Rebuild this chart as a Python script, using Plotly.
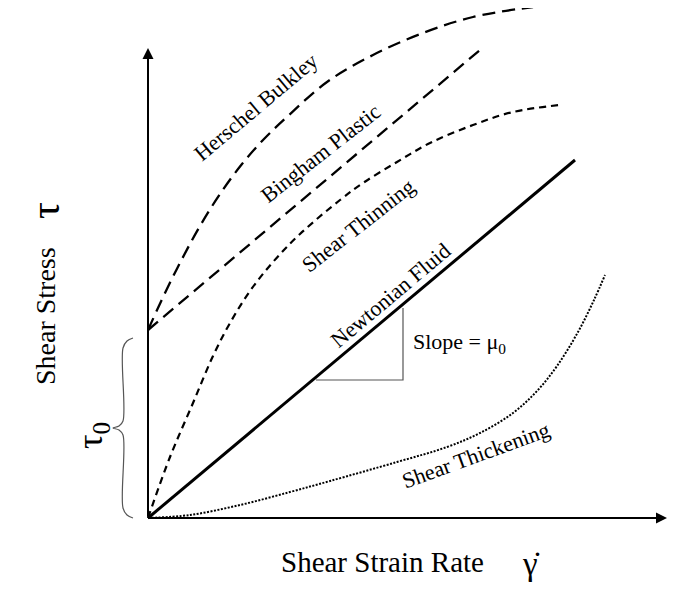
import plotly.graph_objects as go

# ---- data (schematic units: shear strain rate vs shear stress) ----
newton_x = [0.0, 4.27]
newton_y = [0.0, 3.58]

tau0 = 1.88  # yield stress

bingham_x = [0.0, 3.32]
bingham_y = [1.88, 4.68]

herschel_x = [0.0, 0.17, 0.34, 0.52, 0.72, 0.94, 1.16, 1.40, 1.79, 2.25, 2.75, 3.25, 3.85]
herschel_y = [1.88, 2.25, 2.59, 2.92, 3.24, 3.54, 3.79, 4.02, 4.36, 4.63, 4.85, 5.01, 5.11]

thinning_x = [0.0, 0.22, 0.45, 0.65, 0.82, 1.02, 1.25, 1.52, 1.92, 2.15, 2.49, 2.82, 3.25, 3.65, 4.12]
thinning_y = [0.0, 0.61, 1.15, 1.62, 1.95, 2.27, 2.56, 2.84, 3.18, 3.35, 3.56, 3.75, 3.93, 4.06, 4.13]

thickening_x = [0.0, 0.42, 0.92, 1.42, 1.82, 2.49, 2.99, 3.32, 3.65, 3.89, 4.09, 4.30, 4.46, 4.57]
thickening_y = [0.0, 0.03, 0.13, 0.26, 0.37, 0.56, 0.71, 0.85, 1.05, 1.27, 1.52, 1.86, 2.18, 2.43]

# slope triangle (run/rise under the Newtonian line)
triangle_x = [1.68, 2.55, 2.55]
triangle_y = [1.38, 1.38, 2.10]

# brace marking tau0 on the stress axis
brace_top = 1.80
brace_x = [-0.15, -0.21, -0.25, -0.25, -0.29, -0.35, -0.29, -0.25, -0.25, -0.21, -0.15]
brace_y = [brace_top, brace_top - 0.03, brace_top - 0.10, brace_top / 2 + 0.07,
           brace_top / 2 + 0.02, brace_top / 2, brace_top / 2 - 0.02,
           brace_top / 2 - 0.07, 0.10, 0.03, 0.0]

x_axis_end = 5.19
y_axis_end = 4.70

labels = ["Herschel Bulkley", "Bingham Plastic", "Shear Thinning", "Newtonian Fluid", "Shear Thickening"]
label_x = [1.07, 1.72, 2.10, 2.42, 3.27]
label_y = [4.11, 3.65, 2.93, 2.23, 0.63]
label_angle = [-40, -38, -38, -40, -20]

FONT = "Liberation Serif, Times New Roman, serif"

fig = go.Figure()

fig.add_trace(go.Scatter(x=herschel_x, y=herschel_y, mode="lines", line_shape="spline",
                         line=dict(color="black", width=2.3, dash="13px,7px")))
fig.add_trace(go.Scatter(x=bingham_x, y=bingham_y, mode="lines",
                         line=dict(color="black", width=2.3, dash="13px,7px")))
fig.add_trace(go.Scatter(x=thinning_x, y=thinning_y, mode="lines", line_shape="spline",
                         line=dict(color="black", width=2.2, dash="7px,5px")))
fig.add_trace(go.Scatter(x=newton_x, y=newton_y, mode="lines",
                         line=dict(color="black", width=3)))
fig.add_trace(go.Scatter(x=thickening_x, y=thickening_y, mode="lines", line_shape="spline",
                         line=dict(color="black", width=2, dash="2px,1.5px")))
fig.add_trace(go.Scatter(x=triangle_x, y=triangle_y, mode="lines",
                         line=dict(color="#555555", width=1.2)))
fig.add_trace(go.Scatter(x=brace_x, y=brace_y, mode="lines", line_shape="spline",
                         line=dict(color="#555555", width=1.2)))

# axes with arrows
fig.add_annotation(x=x_axis_end, y=0, ax=0, ay=0, xref="x", yref="y", axref="x", ayref="y",
                   showarrow=True, arrowhead=2, arrowsize=1.1, arrowwidth=2, arrowcolor="black", text="")
fig.add_annotation(x=0, y=y_axis_end, ax=0, ay=0, xref="x", yref="y", axref="x", ayref="y",
                   showarrow=True, arrowhead=2, arrowsize=1.1, arrowwidth=2, arrowcolor="black", text="")

for t, x, y, a in zip(labels, label_x, label_y, label_angle):
    fig.add_annotation(x=x, y=y, text=t, textangle=a, showarrow=False,
                       font=dict(family=FONT, size=22, color="black"))

fig.add_annotation(x=2.63, y=1.75, text="Slope = μ<sub>0</sub>", showarrow=False, xanchor="left",
                   font=dict(family=FONT, size=22, color="black"))
fig.add_annotation(x=-0.56, y=0.82, text="τ<sub>0</sub>", textangle=-90, showarrow=False,
                   font=dict(family=FONT, size=36, color="black"))

# axis titles
fig.add_annotation(x=2.34, y=-0.44, text="Shear Strain Rate", showarrow=False,
                   font=dict(family=FONT, size=29, color="black"))
fig.add_annotation(x=3.83, y=-0.46, text="γ̇", showarrow=False,
                   font=dict(family=FONT, size=33, color="black"))
fig.add_annotation(x=-1.03, y=2.02, text="Shear Stress", textangle=-90, showarrow=False,
                   font=dict(family=FONT, size=28, color="black"))
fig.add_annotation(x=-1.03, y=3.07, text="τ", textangle=-90, showarrow=False,
                   font=dict(family=FONT, size=42, color="black"))

fig.update_layout(
    width=672, height=585,
    margin=dict(l=0, r=0, t=0, b=0),
    paper_bgcolor="white", plot_bgcolor="white",
    showlegend=False,
    xaxis=dict(range=[-1.40, 5.32], visible=False, fixedrange=True),
    yaxis=dict(range=[-0.75, 5.10], visible=False, fixedrange=True),
)

fig.write_html("out.html")
